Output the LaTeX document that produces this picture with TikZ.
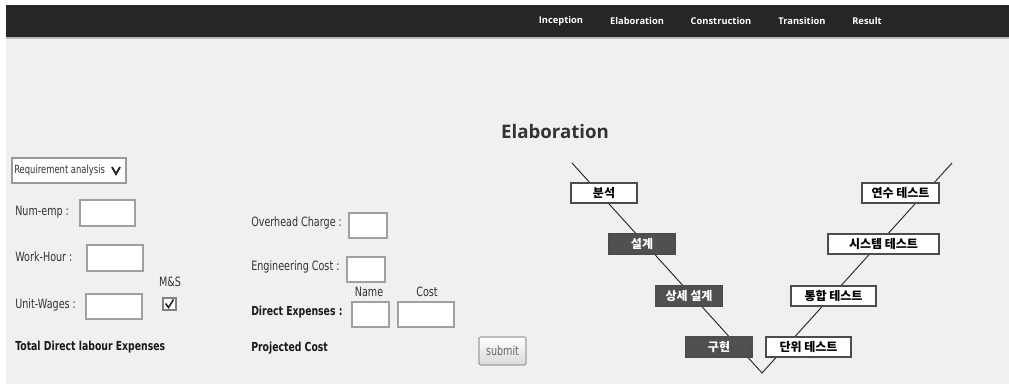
\documentclass[tikz,border=0pt]{standalone}
\usepackage{fontspec}
\setmainfont{Open Sans}
\newfontfamily\formfont[FakeStretch=0.75]{DejaVu Sans}
\newfontfamily\krfont{Noto Sans CJK KR}

\definecolor{barbg}{HTML}{262626}
\definecolor{pagebg}{HTML}{F0F0F0}
\definecolor{boxline}{HTML}{A0A0A0}
\definecolor{stepdark}{HTML}{505050}

\tikzset{
  lbl/.style={anchor=west,inner sep=0,text=black!80,font=\formfont\fontsize{9.6}{11}\selectfont},
  blbl/.style={lbl,text=black!90,font=\formfont\bfseries\fontsize{9.3}{11}\selectfont},
  inbox/.style={draw=boxline,fill=white,line width=0.8pt},
  nav/.style={inner sep=0,text=white,font=\bfseries\fontsize{7}{8}\selectfont},
  vstep/.style={draw=black!70,fill=white,line width=0.8pt,minimum height=15pt,inner sep=0,
    font=\krfont\bfseries\fontsize{9}{10}\selectfont},
  vdark/.style={vstep,fill=stepdark,text=white}
}

\begin{document}
\begin{tikzpicture}[x=0.75pt,y=-0.75pt]
\useasboundingbox (0,0) rectangle (1009,384);

% page and menu bar
\fill[white] (0,0) rectangle (1009,384);
\fill[pagebg] (6,39) rectangle (1009,384);
\fill[barbg] (6,5) rectangle (1009,37);
\fill[gray!55] (6,37) rectangle (1009,39);

\node[nav] (inception) at (561,21) {Inception};
\node[nav] (elab) at (637,21) {Elaboration};
\node[nav] (constr) at (721,21) {Construction};
\node[nav] (trans) at (802,21) {Transition};
\node[nav] (result) at (867,21) {Result};

\node[inner sep=0,text=black!80,font=\bfseries\fontsize{14}{16}\selectfont] (title) at (555,132) {Elaboration};

% left form
\draw[draw=gray!80,fill=white,line width=0.8pt] (12,158) rectangle (126,183);
\node[lbl,font=\formfont\fontsize{8.4}{10}\selectfont] (phase) at (14,170.5) {Requirement analysis};
\draw[line width=1.4pt,black!85] (112,167) -- (116,174) -- (120,167);

\node[lbl] (numemp) at (15,212) {Num-emp :};
\draw[inbox] (80,200) rectangle (135,226);
\node[lbl] (workhour) at (15,257) {Work-Hour :};
\draw[inbox] (87,245) rectangle (143,271);
\node[lbl] (unitwages) at (15,305) {Unit-Wages :};
\draw[inbox] (86,294) rectangle (142,319);

\node[lbl,anchor=center] (ms) at (170,282) {M\&S};
\draw[inbox,draw=gray] (163,298) rectangle (176,310);
\draw[line width=1.2pt,black!85] (165.5,303.5) -- (168.5,307.5) -- (173.5,299.5);

\node[blbl] (labour) at (15,347) {Total Direct labour Expenses};

% middle form
\node[lbl] (overhead) at (251,223) {Overhead Charge :};
\draw[inbox] (349,213) rectangle (387,238);
\node[lbl] (engcost) at (251,267) {Engineering Cost :};
\draw[inbox] (347,257) rectangle (385,282);
\node[lbl,anchor=center] (name) at (369,292) {Name};
\node[lbl,anchor=center] (cost) at (427,292) {Cost};
\node[blbl] (direct) at (251,312) {Direct Expenses :};
\draw[inbox] (352,302) rectangle (389,327);
\draw[inbox] (398,302) rectangle (454,327);
\node[blbl] (projected) at (251,348) {Projected Cost};

\shade[top color=white,bottom color=gray!30,draw=gray!75,line width=0.8pt,rounded corners=1pt]
  (479,337) rectangle (526,365);
\node[lbl,anchor=center,text=black!60] (submit) at (502.5,350.5) {submit};

% V model
\coordinate (vleft) at (572,163);
\coordinate (vbottom) at (762,373);
\coordinate (vright) at (952,163);
\draw[black!85,line width=0.7pt] (vleft) -- (vbottom) -- (vright);

\node[vstep,minimum width=49.5pt] (analysis) at (604,193) {분석};
\node[vdark,minimum width=49.5pt] (design) at (642,244) {설계};
\node[vdark,minimum width=49.5pt] (detail) at (689,296) {상세 설계};
\node[vdark,minimum width=49.5pt] (impl) at (719,347) {구현};
\node[vstep,minimum width=63.75pt] (unittest) at (808.5,347) {단위 테스트};
\node[vstep,minimum width=63.75pt] (inttest) at (833.5,296) {통합 테스트};
\node[vstep,minimum width=83.25pt] (systest) at (883.5,244) {시스템 테스트};
\node[vstep,minimum width=57.75pt] (acctest) at (900.5,193) {연수 테스트};

\end{tikzpicture}
\end{document}
